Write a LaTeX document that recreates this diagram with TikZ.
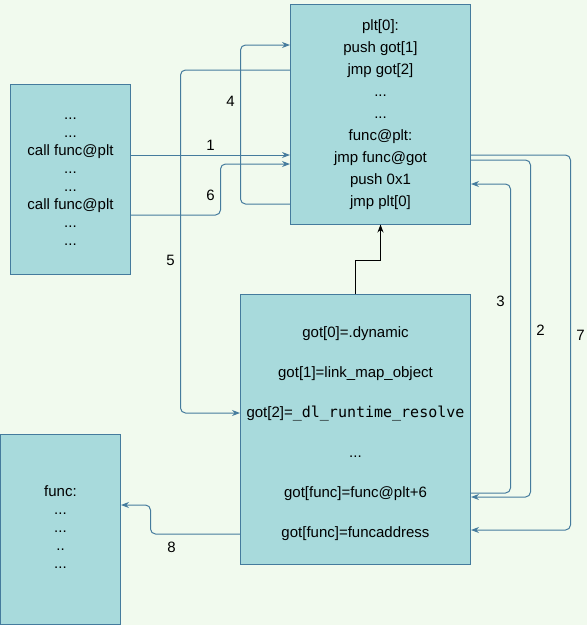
\documentclass[tikz,border=0pt]{standalone}
\usepackage{fontspec}
\setmainfont{Liberation Sans}
\newfontfamily\monofont{DejaVu Sans Mono}
\usetikzlibrary{arrows.meta}
\definecolor{bgcol}{HTML}{F1FAEE}
\definecolor{boxfill}{HTML}{A8DADC}
\definecolor{boxline}{HTML}{457B9D}
\begin{document}
\begin{tikzpicture}[x=1pt,y=-1pt,
    box/.style={draw=boxline, fill=boxfill, line width=1pt, align=center, inner sep=0pt},
    link/.style={draw=boxline, line width=1pt, rounded corners=5pt, -{Stealth[length=8pt,width=6pt]}},
    num/.style={font=\fontsize{15}{18}\selectfont, inner sep=0pt}]
                \fill[bgcol] (0,0) rectangle (586,625);
                \node[box, minimum width=120, minimum height=190, font=\fontsize{15}{18}\selectfont] (caller) at (70,179)
                    {\strut...\\...\\call func@plt\\...\\...\\call func@plt\\...\\...\strut};
                \node[box, minimum width=180, minimum height=220, font=\fontsize{15}{22}\selectfont] (plt) at (380,114)
                    {\strut plt[0]:\\push got[1]\\jmp got[2]\\...\\...\\func@plt:\\jmp func@got\\push 0x1\\jmp plt[0]\strut};
                \node[box, minimum width=230, minimum height=270, font=\fontsize{15}{40}\selectfont] (got) at (355,429)
                    {\strut got[0]=.dynamic\\got[1]=link\_map\_object\\got[2]={\monofont\_dl\_runtime\_resolve}\\...\\got[func]=func@plt+6\\got[func]=funcaddress\strut};
                \node[box, minimum width=120, minimum height=190, font=\fontsize{15}{18}\selectfont] (func) at (60,529)
                    {\strut func:\\...\\...\\..\\...\strut};
                \draw[link] (caller.east |- 0,155) -- (plt.west |- 0,155);
                \draw[link] (caller.east |- 0,215) -- (220,215) -- (220,164) -- (plt.west |- 0,164);
                \draw[link] (plt.west |- 0,204) -- (240,204) -- (240,45) -- (plt.west |- 0,45);
                \draw[link] (plt.west |- 0,70) -- (180,70) -- (180,413) -- (got.west |- 0,413);
                \draw[link] (plt.east |- 0,155) -- (570,155) -- (570,530) -- (got.east |- 0,530);
                \draw[link] (plt.east |- 0,160) -- (530,160) -- (530,497) -- (got.east |- 0,497);
                \draw[link] (got.east |- 0,493) -- (510,493) -- (510,184) -- (plt.east |- 0,184);
                \draw[link] (got.west |- 0,534) -- (150,534) -- (150,505) -- (func.east |- 0,505);
                \draw[line width=1pt, -{Stealth[length=8pt,width=6pt]}] (got.north) -- (355,260) -- (380,260) -- (plt.south);
                \node[num] (l1) at (210,145) {1};
                \node[num] (l2) at (540,330) {2};
                \node[num] (l3) at (500,301) {3};
                \node[num] (l4) at (230,101) {4};
                \node[num] (l5) at (170,260) {5};
                \node[num] (l6) at (210,195) {6};
                \node[num] (l7) at (580,335) {7};
                \node[num] (l8) at (171,547) {8};
            \end{tikzpicture}
\end{document}
